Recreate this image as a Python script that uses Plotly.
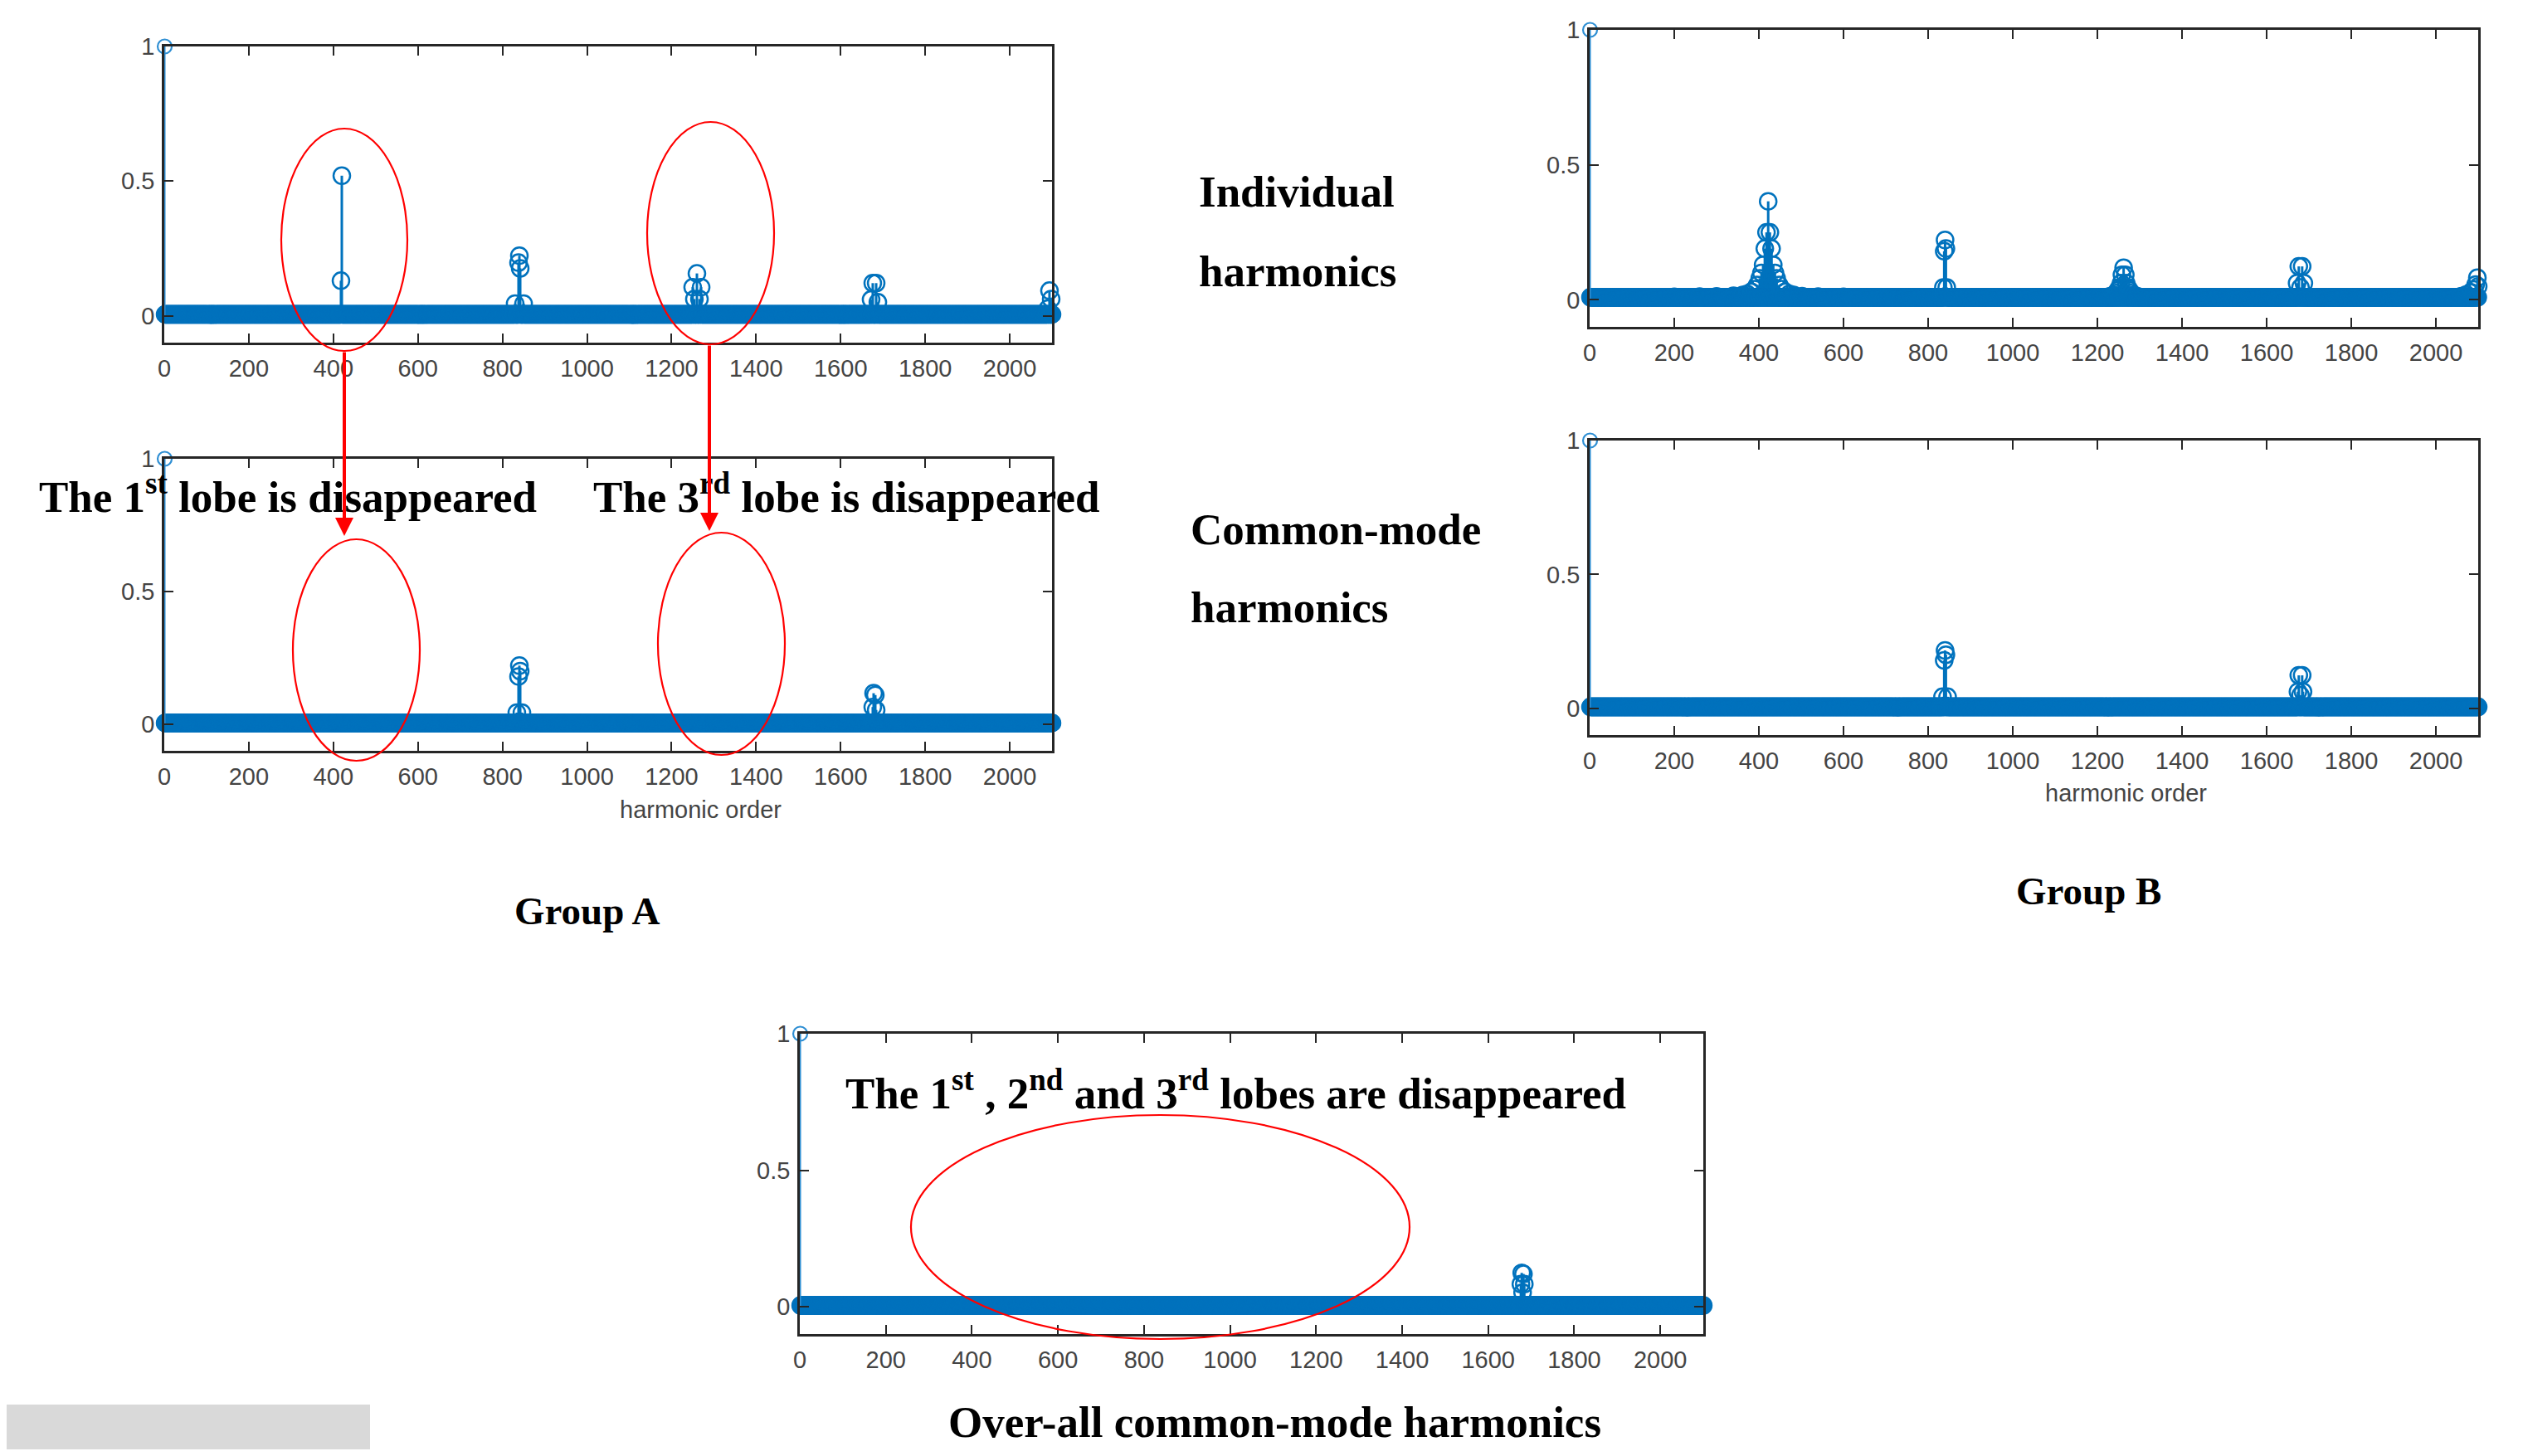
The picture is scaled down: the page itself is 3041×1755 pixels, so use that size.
import plotly.graph_objects as go

# ---------------- data ----------------
PAGE_W, PAGE_H = 3041, 1755
BODY = 8                      # default page margin around the plot div
W, H = PAGE_W - 2 * BODY, PAGE_H - 2 * BODY
BLUE = "#0072BD"

harmonic_orders = list(range(1, 2101))          # x categories: harmonic order 1..2100
x_tick_vals = [0, 200, 400, 600, 800, 1000, 1200, 1400, 1600, 1800, 2000]
y_tick_vals = [0, 0.5, 1]
y_tick_text = ["0", "0.5", "1"]

fundamental_order = 1
fundamental_value = 1.0

# Group A - individual harmonics
a_ind_floor = 0.005
a_ind_orders = [418, 420, 830, 838, 840, 842, 850, 1250, 1254, 1260, 1266, 1270,
                1672, 1676, 1684, 1688, 2090, 2094, 2098]
a_ind_values = [0.13, 0.52, 0.045, 0.197, 0.223, 0.176, 0.045, 0.106, 0.062, 0.157, 0.062, 0.106,
                0.06, 0.121, 0.121, 0.05, 0.026, 0.093, 0.062]

# Group A - common-mode harmonics
a_cm_floor = 0.005
a_cm_orders = [834, 838, 840, 842, 846, 1676, 1678, 1682, 1684]
a_cm_values = [0.044, 0.18, 0.221, 0.2, 0.044, 0.065, 0.117, 0.11, 0.054]

# Group B - individual harmonics (lobes with raised skirts)
b_ind_floor = 0.01
b_ind_orders = [200, 260, 300, 340, 362, 372, 382, 390, 396, 402, 406, 410, 414, 418,
                422,
                426, 430, 434, 438, 442, 448, 454, 462, 472, 482, 502, 540, 600,
                836, 838, 840, 842, 844,
                1230, 1238, 1244, 1248, 1252, 1256, 1258, 1262, 1266, 1268, 1272, 1276, 1280, 1286,
                1294,
                1672, 1676, 1680, 1684, 1688,
                2060, 2072, 2082, 2090, 2094, 2098, 2100]
b_ind_values = [0.011, 0.012, 0.013, 0.015, 0.018, 0.022, 0.03, 0.04, 0.055, 0.08, 0.10, 0.13,
                0.19, 0.25,
                0.365,
                0.25, 0.19, 0.13, 0.10, 0.08, 0.055, 0.04, 0.03, 0.022, 0.018, 0.014, 0.012, 0.011,
                0.046, 0.18, 0.222, 0.19, 0.046,
                0.014, 0.018, 0.025, 0.035, 0.045, 0.062, 0.093, 0.119, 0.093, 0.062, 0.045, 0.035,
                0.025, 0.018, 0.014,
                0.062, 0.124, 0.046, 0.124, 0.062,
                0.014, 0.02, 0.028, 0.038, 0.057, 0.082, 0.05]

# Group B - common-mode harmonics
b_cm_floor = 0.005
b_cm_orders = [834, 838, 840, 842, 846, 1674, 1676, 1680, 1684, 1686]
b_cm_values = [0.043, 0.179, 0.216, 0.2, 0.043, 0.062, 0.123, 0.049, 0.123, 0.062]

# Over-all common-mode harmonics
c_floor = 0.005
c_orders = [1676, 1678, 1680, 1682, 1684]
c_values = [0.083, 0.124, 0.052, 0.12, 0.083]


def spectrum(floor, orders, values):
    mag = {o: floor for o in harmonic_orders}
    mag[fundamental_order] = fundamental_value
    for o, v in zip(orders, values):
        mag[o] = v
    return harmonic_orders, [mag[o] for o in harmonic_orders]


def X(px):
    return (px - BODY) / W


def Y(py):
    return 1 - (py - BODY) / H


# panel geometry in page pixels: (left, right, top, bottom)
panels = [
    ("", (198, 1268, 56, 413), a_ind_floor, a_ind_orders, a_ind_values),
    ("2", (198, 1268, 553, 905), a_cm_floor, a_cm_orders, a_cm_values),
    ("3", (1916, 2987, 36, 394), b_ind_floor, b_ind_orders, b_ind_values),
    ("4", (1916, 2987, 531, 886), b_cm_floor, b_cm_orders, b_cm_values),
    ("5", (964, 2053, 1246, 1608), c_floor, c_orders, c_values),
]

fig = go.Figure()
layout = dict(width=W, height=H, margin=dict(l=0, r=0, t=0, b=0, autoexpand=False),
              paper_bgcolor="white", plot_bgcolor="white", showlegend=False)

AX = "#262626"
tickfont = dict(family="Liberation Sans, Arial, sans-serif", size=29, color="#444444")


def stems(xs, ys):
    sx, sy = [], []
    for xv, yv in zip(xs, ys):
        sx += [xv, xv, None]
        sy += [0, yv, None]
    return sx, sy


for suf, (l, r, t, b), floor, orders, values in panels:
    xs, ys = spectrum(floor, orders, values)
    main = [(xv, yv) for xv, yv in zip(xs, ys) if xv != fundamental_order]
    fund = [(xv, yv) for xv, yv in zip(xs, ys) if xv == fundamental_order]
    mx, my = [p[0] for p in main], [p[1] for p in main]
    fx, fy = [p[0] for p in fund], [p[1] for p in fund]
    sx, sy = stems(mx, my)
    fig.add_trace(go.Scatter(x=sx, y=sy, mode="lines", line=dict(color=BLUE, width=3),
                             xaxis="x" + suf, yaxis="y" + suf, cliponaxis=False, hoverinfo="skip"))
    fig.add_trace(go.Scatter(x=mx, y=my, mode="markers",
                             marker=dict(symbol="circle-open", size=20, color=BLUE,
                                         line=dict(width=2.5, color=BLUE)),
                             xaxis="x" + suf, yaxis="y" + suf, cliponaxis=False))
    sx, sy = stems(fx, fy)
    fig.add_trace(go.Scatter(x=sx, y=sy, mode="lines", line=dict(color="#2f8fd3", width=2),
                             xaxis="x" + suf, yaxis="y" + suf, cliponaxis=False, hoverinfo="skip"))
    fig.add_trace(go.Scatter(x=fx, y=fy, mode="markers",
                             marker=dict(symbol="circle-open", size=17, color="#2f8fd3",
                                         line=dict(width=2.2, color="#2f8fd3")),
                             xaxis="x" + suf, yaxis="y" + suf, cliponaxis=False))
    layout["xaxis" + suf] = dict(domain=[X(l), X(r)], anchor="y" + suf, range=[0, 2100],
                                 tickvals=x_tick_vals, ticks="inside", ticklen=11, tickwidth=2,
                                 tickcolor=AX, showline=True, linecolor=AX, linewidth=2.5,
                                 mirror="ticks", showgrid=False, zeroline=False,
                                 tickfont=tickfont, ticklabelstandoff=3, automargin=False)
    layout["yaxis" + suf] = dict(domain=[Y(b), Y(t)], anchor="x" + suf, range=[-0.1, 1],
                                 tickvals=y_tick_vals, ticktext=y_tick_text, ticks="inside",
                                 ticklen=11, tickwidth=2, tickcolor=AX, showline=True,
                                 linecolor=AX, linewidth=2.5, mirror="ticks", showgrid=False,
                                 zeroline=False, tickfont=tickfont, ticklabelstandoff=3,
                                 automargin=False)

serif = "Liberation Serif, Times New Roman, serif"
ann = []


def text(s, x, y, size=52, xanchor="center"):
    ann.append(dict(text="<b>" + s + "</b>", x=X(x), y=Y(y), xref="paper", yref="paper",
                    xanchor=xanchor, yanchor="middle", showarrow=False,
                    font=dict(family=serif, size=size, color="black")))


text("Individual", 1443, 231, 53, "left")
text("harmonics", 1443, 327, 53, "left")
text("Common-mode", 1433, 638, 53, "left")
text("harmonics", 1433, 732, 53, "left")
text("Group A", 708, 1098, 47)
text("Group B", 2517, 1074, 47)
text("Over-all common-mode harmonics", 1536, 1714, 53)
text("The 1<sup>st</sup> lobe is disappeared", 347, 595, 53)
text("The 3<sup>rd</sup> lobe is disappeared", 1020, 595, 53)
text("The 1<sup>st</sup> , 2<sup>nd</sup> and 3<sup>rd</sup> lobes are disappeared", 1489, 1314, 53)

for cx, cy in [(844, 976), (2562, 956)]:
    ann.append(dict(text="harmonic order", x=X(cx), y=Y(cy), xref="paper", yref="paper",
                    xanchor="center", yanchor="middle", showarrow=False,
                    font=dict(family="Liberation Sans, Arial, sans-serif", size=29, color="#444444")))

# red arrows
for ax_x, y_from, y_to in [(415, 423, 646), (855, 415, 640)]:
    ann.append(dict(text="", x=X(ax_x), y=Y(y_to), xref="paper", yref="paper",
                    ax=0, ay=y_from - y_to, axref="pixel", ayref="pixel",
                    showarrow=True, arrowhead=2, arrowsize=1.1, arrowwidth=4, arrowcolor="#FF0000"))

layout["annotations"] = ann

shapes = []
for x0, x1, y0, y1 in [(339, 491, 155, 423), (780, 933, 147, 415), (353, 506, 650, 917),
                       (793, 946, 642, 910), (1098, 1699, 1344, 1614)]:
    shapes.append(dict(type="circle", xref="paper", yref="paper", x0=X(x0), x1=X(x1),
                       y0=Y(y1), y1=Y(y0), line=dict(color="#FF0000", width=2.2)))
shapes.append(dict(type="rect", xref="paper", yref="paper", x0=X(8), x1=X(446), y0=Y(1747),
                   y1=Y(1693), fillcolor="#D9D9D9", line=dict(width=0), layer="below"))
layout["shapes"] = shapes

fig.update_layout(**layout)
fig.write_html("out.html")
